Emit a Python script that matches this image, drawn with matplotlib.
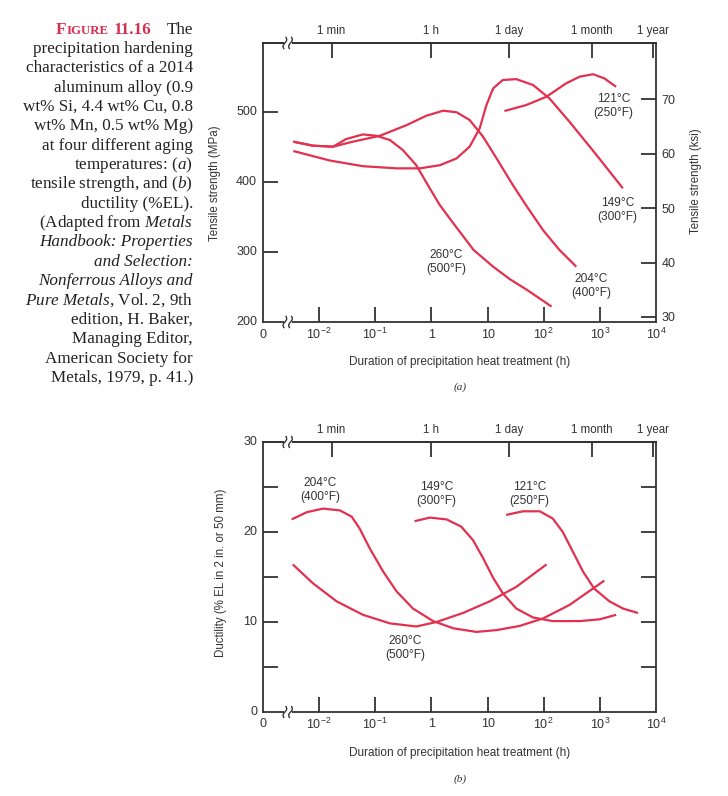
import numpy as np
import matplotlib
matplotlib.use('Agg')
import matplotlib.pyplot as plt
import matplotlib.transforms as mtransforms
from matplotlib.patches import Rectangle

# ---------------- data (x = log10 of time in hours) ----------------
# (a) tensile strength, MPa
ts260_x = [-2.46, -2.11, -1.75, -1.52, -1.22, -0.98, -0.74, -0.51, -0.27, -0.03, 0.15, 0.39, 0.75, 1.10, 1.40, 1.70, 2.14]
ts260_y = [457.6, 451.9, 450.5, 461.4, 468, 466, 460, 445.7, 424, 391, 367, 341, 303, 279, 261, 246, 222]
ts204_x = [-2.46, -2.11, -1.75, -1.40, -0.92, -0.45, -0.09, 0.21, 0.45, 0.68, 0.92, 1.16, 1.45, 1.70, 1.99, 2.28, 2.58]
ts204_y = [457.6, 451.9, 450.5, 457.6, 466, 481, 494.7, 501.9, 499.6, 488.6, 464.7, 433.8, 395.7, 365, 331, 303, 279]
ts149_x = [-2.46, -1.81, -1.22, -0.62, -0.21, 0.15, 0.45, 0.68, 0.86, 0.98, 1.10, 1.27, 1.51, 1.81, 2.10, 2.46, 2.94, 3.41]
ts149_y = [444.3, 430.7, 422.6, 419.5, 419.5, 424, 433.8, 450.5, 476.7, 510, 533.8, 545.7, 547, 538.6, 519.6, 486, 438.6, 391]
ts121_x = [1.30, 1.69, 2.05, 2.40, 2.64, 2.88, 3.08, 3.29]
ts121_y = [501.4, 510, 521.9, 541, 550.5, 554, 548, 536]

# (b) ductility, %EL
el204_x = [-2.49, -2.22, -1.93, -1.63, -1.42, -1.28, -1.10, -0.86, -0.62, -0.33, 0.03, 0.39, 0.80, 1.16, 1.57, 1.99, 2.46, 3.08]
el204_y = [21.4, 22.2, 22.6, 22.4, 21.7, 20.4, 18.2, 15.6, 13.4, 11.5, 10.1, 9.3, 8.9, 9.1, 9.56, 10.4, 11.9, 14.6]
el260_x = [-2.47, -2.11, -1.69, -1.22, -0.74, -0.27, 0.09, 0.56, 1.04, 1.51, 2.05]
el260_y = [16.4, 14.3, 12.3, 10.8, 9.85, 9.5, 10.0, 11.0, 12.3, 13.9, 16.4]
el149_x = [-0.30, -0.03, 0.27, 0.53, 0.74, 0.92, 1.10, 1.27, 1.51, 1.81, 2.16, 2.64, 3.00, 3.29]
el149_y = [21.2, 21.6, 21.4, 20.6, 19.1, 17.1, 14.9, 13.2, 11.5, 10.5, 10.1, 10.1, 10.3, 10.8]
el121_x = [1.33, 1.63, 1.93, 2.16, 2.34, 2.52, 2.70, 2.90, 3.17, 3.41, 3.68]
el121_y = [21.9, 22.3, 22.3, 21.5, 20.0, 17.8, 15.6, 13.7, 12.3, 11.5, 11.0]

# axis ticks / labels
x_ticks = [-3, -2, -1, 0, 1, 2, 3, 4]
x_ticklabels = ['0', r'$\mathregular{10^{-2}}$', r'$\mathregular{10^{-1}}$', '1', '10',
                r'$\mathregular{10^{2}}$', r'$\mathregular{10^{3}}$', r'$\mathregular{10^{4}}$']
x_tickmarks = [-2, -1, 0, 1, 2, 3]
time_ticks = [np.log10(1 / 60), 0.0, np.log10(24), np.log10(720), np.log10(8760)]
time_labels = ['1 min', '1 h', '1 day', '1 month', '1 year']
mpa_ticks = [300, 400, 500]
mpa_labels = [200, 300, 400, 500]
ksi_ticks = [30, 40, 50, 60, 70]
el_ticks = [5, 10, 15, 20, 25]
el_labels = [0, 10, 20, 30]

labels_a = [('121°C\n(250°F)', 3.24, 509), ('149°C\n(300°F)', 3.31, 360),
            ('204°C\n(400°F)', 2.85, 251), ('260°C\n(500°F)', 0.27, 286)]
labels_b = [('204°C\n(400°F)', -1.98, 24.7), ('149°C\n(300°F)', 0.09, 24.2),
            ('121°C\n(250°F)', 1.75, 24.2), ('260°C\n(500°F)', -0.47, 7.1)]

# ---------------- style ----------------
plt.rcParams['font.family'] = ['Liberation Sans', 'DejaVu Sans']
plt.rcParams['mathtext.fontset'] = 'custom'
plt.rcParams['mathtext.rm'] = 'Liberation Sans'
plt.rcParams['mathtext.it'] = 'Liberation Serif:italic'
RED = '#e2304f'
DARK = '#333333'
TL = 10.5  # tick length in points
W, H = 728, 796
fig = plt.figure(figsize=(W / 100, H / 100), dpi=100)


def fx(px):
    return px / W


def fy(py):
    return 1 - py / H


def style_axes(ax):
    for s in ax.spines.values():
        s.set_color(DARK)
        s.set_linewidth(1.3)
    ax.set_xlim(-3, 4)


def break_marks(ax):
    tr = mtransforms.blended_transform_factory(ax.transData, ax.transAxes)
    x0 = -2.56
    for yc in (0, 1):
        ax.add_patch(Rectangle((x0 - 0.07, yc - 0.012), 0.14, 0.024, transform=tr,
                               facecolor='white', edgecolor='none', clip_on=False, zorder=5))
    t = np.linspace(-1, 1, 30)
    for yc in (0, 1):
        for dx in (-0.05, 0.05):
            xs = x0 + dx + 0.021 * np.sin(np.pi * t) + 0.02 * t
            ys = yc + 0.02 * t
            ax.plot(xs, ys, transform=tr, color=DARK, lw=1.0, clip_on=False, zorder=6)


def x_axes(ax):
    ax.set_xticks(x_tickmarks)
    ax.set_xticklabels([])
    ax.tick_params(axis='x', direction='in', length=TL, width=1.3, color=DARK, top=False)
    tr = mtransforms.blended_transform_factory(ax.transData, ax.transAxes)
    for xv, lab in zip(x_ticks, x_ticklabels):
        ax.text(xv, -0.045, lab, transform=tr, ha='center', va='center', fontsize=9, color=DARK)
    sec = ax.secondary_xaxis('top')
    sec.set_xticks(time_ticks)
    sec.set_xticklabels(time_labels, fontsize=8.3, color=DARK)
    sec.tick_params(direction='in', length=TL, width=1.3, color=DARK, pad=4)
    sec.spines['top'].set_color(DARK)
    sec.spines['top'].set_linewidth(1.3)


# ---------------- (a) ----------------
ax1 = fig.add_axes([fx(263), fy(322), fx(656 - 263), (322 - 43) / H])
style_axes(ax1)
ax1.set_ylim(200, 598.6)
for xs, ys in [(ts260_x, ts260_y), (ts204_x, ts204_y), (ts149_x, ts149_y), (ts121_x, ts121_y)]:
    ax1.plot(xs, ys, color=RED, lw=1.6, solid_joinstyle='round', solid_capstyle='butt')
ax1.set_yticks(mpa_ticks)
ax1.set_yticklabels([])
ax1.tick_params(axis='y', direction='in', length=TL, width=1.3, color=DARK)
tr1 = mtransforms.blended_transform_factory(ax1.transAxes, ax1.transData)
for v in mpa_labels:
    ax1.text(-0.015, v, str(v), transform=tr1, ha='right', va='center', fontsize=9, color=DARK)
x_axes(ax1)
ax1r = ax1.twinx()
ax1r.set_ylim(29.08, 80.3)
ax1r.set_yticks(ksi_ticks)
ax1r.set_yticklabels([str(v) for v in ksi_ticks], fontsize=9, color=DARK)
ax1r.tick_params(axis='y', direction='in', length=TL, width=1.3, color=DARK, pad=4)
for s in ax1r.spines.values():
    s.set_visible(False)
break_marks(ax1)
for txt, xv, yv in labels_a:
    ax1.text(xv, yv, txt, ha='center', va='center', fontsize=8.6, color=DARK, linespacing=1.25)
fig.text(fx(215), fy(183), 'Tensile strength (MPa)', rotation=90, ha='center', va='center',
         fontsize=8.3, color=DARK)
fig.text(fx(696), fy(181), 'Tensile strength (ksi)', rotation=90, ha='center', va='center',
         fontsize=8.3, color=DARK)
fig.text(fx(460), fy(362), 'Duration of precipitation heat treatment (h)', ha='center', va='center',
         fontsize=8.5, color=DARK)
fig.text(fx(460), fy(387), '(a)', ha='center', va='center', fontsize=8,
         family='Liberation Serif', style='italic', color=DARK)

# ---------------- (b) ----------------
ax2 = fig.add_axes([fx(263), fy(712), fx(656 - 263), (712 - 442) / H])
style_axes(ax2)
ax2.set_ylim(0, 30)
for xs, ys in [(el204_x, el204_y), (el260_x, el260_y), (el149_x, el149_y), (el121_x, el121_y)]:
    ax2.plot(xs, ys, color=RED, lw=1.6, solid_joinstyle='round', solid_capstyle='butt')
ax2.set_yticks(el_ticks)
ax2.set_yticklabels([])
ax2.tick_params(axis='y', direction='in', length=TL, width=1.3, color=DARK, right=True)
tr2 = mtransforms.blended_transform_factory(ax2.transAxes, ax2.transData)
for v in el_labels:
    ax2.text(-0.015, v, str(v), transform=tr2, ha='right', va='center', fontsize=9, color=DARK)
x_axes(ax2)
break_marks(ax2)
for txt, xv, yv in labels_b:
    ax2.text(xv, yv, txt, ha='center', va='center', fontsize=8.6, color=DARK, linespacing=1.25)
fig.text(fx(221), fy(573), 'Ductility (% EL in 2 in. or 50 mm)', rotation=90, ha='center',
         va='center', fontsize=8.3, color=DARK)
fig.text(fx(460), fy(753), 'Duration of precipitation heat treatment (h)', ha='center', va='center',
         fontsize=8.5, color=DARK)
fig.text(fx(460), fy(779), '(b)', ha='center', va='center', fontsize=8,
         family='Liberation Serif', style='italic', color=DARK)

# ---------------- caption ----------------
axc = fig.add_axes([0, 0, 1, 1])
axc.axis('off')
axc.set_zorder(-1)
CAP = 12.3
serif = ['Liberation Serif', 'DejaVu Serif']
# (text, fully italic?)
caption_lines = [
    ('precipitation hardening', False),
    ('characteristics of a 2014', False),
    ('aluminum alloy (0.9', False),
    ('wt% Si, 4.4 wt% Cu, 0.8', False),
    ('wt% Mn, 0.5 wt% Mg)', False),
    ('at four different aging', False),
    (r'temperatures: ($\mathit{a}$)', False),
    (r'tensile strength, and ($\mathit{b}$)', False),
    ('ductility (%EL).', False),
    (r'(Adapted from $\mathit{Metals}$', False),
    ('Handbook: Properties', True),
    ('and Selection:', True),
    ('Nonferrous Alloys and', True),
    (r'$\mathit{Pure\ Metals}$, Vol. 2, 9th', False),
    ('edition, H. Baker,', False),
    ('Managing Editor,', False),
    ('American Society for', False),
    ('Metals, 1979, p. 41.)', False),
]
xr = fx(193)
base0 = 33.5
step = (382 - 33.5) / 18
t_the = fig.text(xr, fy(base0), 'The', ha='right', va='baseline', fontsize=CAP, family=serif, color='#222222')
t_num = axc.annotate('11.16', xy=(0, 0), xycoords=t_the, xytext=(-11, 0), textcoords='offset points',
                     ha='right', va='bottom', fontsize=CAP, family=serif, color='#d6304f', weight='bold')
t_ig = axc.annotate('IGURE', xy=(0, 0), xycoords=t_num, xytext=(-3.5, 0), textcoords='offset points',
                    ha='right', va='bottom', fontsize=9.3, family=serif, color='#d6304f', weight='bold')
axc.annotate('F', xy=(0, 0), xycoords=t_ig, xytext=(0, 0), textcoords='offset points',
             ha='right', va='bottom', fontsize=CAP, family=serif, color='#d6304f', weight='bold')
for i, (line, ital) in enumerate(caption_lines):
    fig.text(xr, fy(base0 + step * (i + 1)), line, ha='right', va='baseline', fontsize=CAP,
             family=serif, style='italic' if ital else 'normal', color='#222222')

fig.savefig('out.png', dpi=100)
